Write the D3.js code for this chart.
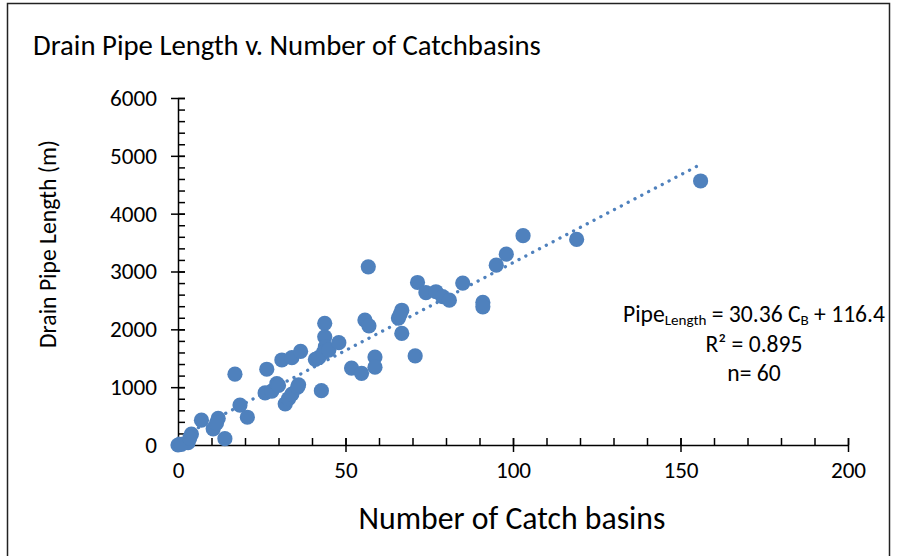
<!DOCTYPE html>
<html>
<head>
<meta charset="utf-8">
<script src="https://cdn.jsdelivr.net/npm/d3@7"></script>
<style>
  body { margin: 0; background: #fff; }
  svg { display: block; }
  text { font-family: Carlito, Lato, "Open Sans", sans-serif; fill: #000; }
</style>
</head>
<body>
<div class="visHolder"></div>
<script>
// data
var catchBasins = [0, 3, 4, 7, 10.5, 12, 11.5, 14, 17, 18.5,
                   20.7, 26.5, 26, 28, 29.5, 31, 34, 36.6, 32, 33,
                   34, 35.7, 36, 42.8, 41, 42, 43.8, 43.8, 44, 43.4,
                   45, 48, 51.8, 54.8, 56.8, 55.8, 57, 58.8, 58.8, 66.8,
                   65.8, 66.8, 70.8, 71.5, 74, 77, 79, 81, 85, 91,
                   91, 95, 98, 103, 119, 156, 1, 3.5, 30, 66.3];
var pipeLength = [0, 40, 190, 430, 280, 460, 380, 110, 1225, 690,
                  480, 1310, 900, 930, 1060, 1470, 1510, 1620, 710, 800,
                  880, 1000, 1040, 940, 1480, 1510, 2105, 1870, 1700, 1600,
                  1640, 1770, 1330, 1240, 3080, 2160, 2060, 1520, 1345, 2330,
                  2195, 1930, 1540, 2810, 2635, 2650, 2565, 2505, 2800, 2465,
                  2390, 3110, 3300, 3620, 3555, 4565, 10, 120, 1030, 2260];
var xTicks = [0, 50, 100, 150, 200];
var yTicks = [0, 1000, 2000, 3000, 4000, 5000, 6000];
var slope = 30.36, intercept = 116.4;

var points = catchBasins.map(function(c, i) { return { x: c, y: pipeLength[i] }; });

var width = 898, height = 556;
var svg = d3.select(".visHolder")
    .append("svg")
    .attr("width", width)
    .attr("height", height);

// chart frame
svg.append("rect")
    .attr("x", 7.5).attr("y", 3.5)
    .attr("width", 882).attr("height", 600)
    .attr("fill", "none")
    .attr("stroke", "#222")
    .attr("stroke-width", 1.5);

var x = d3.scaleLinear().domain([0, 200]).range([178, 848]);
var y = d3.scaleLinear().domain([0, 6000]).range([445, 98]);

// font size that gives a text the width it has in the picture
function fitSize(sel, w) {
    var len = sel.node().getComputedTextLength();
    var fs = parseFloat(sel.style("font-size"));
    return fs * w / len;
}
function fit(sel, w) {
    sel.style("font-size", fitSize(sel, w) + "px");
}

svg.append("text")
    .attr("x", 33).attr("y", 55)
    .style("font-size", "22px")
    .text("Drain Pipe Length v. Number of Catchbasins")
    .call(fit, 508);

// y axis: minor ticks inside, major ticks crossing
svg.append("g")
    .attr("transform", "translate(" + x(0) + ",0)")
    .call(d3.axisRight(y).ticks(30).tickSize(7).tickFormat(""))
    .call(function(g) { g.select(".domain").remove(); });

var yAxis = svg.append("g")
    .attr("transform", "translate(" + x(0) + ",0)")
    .call(d3.axisLeft(y).tickValues(yTicks).tickFormat(d3.format("d"))
        .tickSize(7).tickSizeOuter(0).tickPadding(14));
yAxis.selectAll(".tick line").attr("x2", -7).attr("x1", 7);

// x axis
svg.append("g")
    .attr("transform", "translate(0," + y(0) + ")")
    .call(d3.axisTop(x).ticks(20).tickSize(7).tickFormat(""))
    .call(function(g) { g.select(".domain").remove(); });

var xAxis = svg.append("g")
    .attr("transform", "translate(0," + y(0) + ")")
    .call(d3.axisBottom(x).tickValues(xTicks).tickFormat(d3.format("d"))
        .tickSize(7).tickSizeOuter(0).tickPadding(10));
xAxis.selectAll(".tick line").attr("y1", -7).attr("y2", 7);

svg.selectAll(".tick text")
    .style("font-size", "18px")
    .style("font-family", "Carlito, Lato, sans-serif");
var tickSize = fitSize(yAxis.selectAll(".tick text").filter(function(d) { return d === 6000; }), 47);
svg.selectAll(".tick text").style("font-size", tickSize + "px");

svg.selectAll(".domain, .tick line").attr("stroke", "#000").attr("stroke-width", 1.5);

// axis titles
svg.append("text")
    .attr("x", 512).attr("y", 529)
    .attr("text-anchor", "middle")
    .style("font-size", "25px")
    .text("Number of Catch basins")
    .call(fit, 307);

svg.append("text")
    .attr("transform", "translate(56,244) rotate(-90)")
    .attr("text-anchor", "middle")
    .style("font-size", "17px")
    .text("Drain Pipe Length (m)")
    .call(fit, 208);

// trend line
svg.append("line")
    .attr("x1", x(0)).attr("y1", y(intercept))
    .attr("x2", x(156)).attr("y2", y(slope * 156 + intercept))
    .attr("stroke", "#4F81BD")
    .attr("stroke-width", 3.3)
    .attr("stroke-linecap", "round")
    .attr("stroke-dasharray", "0.1,7.6");

// points
svg.selectAll("circle.pt")
    .data(points)
    .enter()
    .append("circle")
    .attr("class", "pt")
    .attr("cx", function(d) { return x(d.x); })
    .attr("cy", function(d) { return y(d.y); })
    .attr("r", 7.6)
    .attr("fill", "#4F81BD");

// equation annotation
var eq = svg.append("text")
    .attr("text-anchor", "middle")
    .style("font-size", "18px");
var l2 = eq.append("tspan").attr("x", 754).attr("y", 352).text("R² = 0.895");
var eqSize = fitSize(l2, 97);
eq.style("font-size", eqSize + "px");
var l1 = eq.insert("tspan", "tspan").attr("x", 754).attr("y", 322);
l1.append("tspan").text("Pipe");
l1.append("tspan").attr("baseline-shift", "-22%").style("font-size", (eqSize * 0.64) + "px").text("Length");
l1.append("tspan").text(" = 30.36 C");
l1.append("tspan").attr("baseline-shift", "-22%").style("font-size", (eqSize * 0.64) + "px").text("B");
l1.append("tspan").text(" + 116.4");
eq.append("tspan").attr("x", 754).attr("y", 381).text("n= 60");
</script>
</body>
</html>
